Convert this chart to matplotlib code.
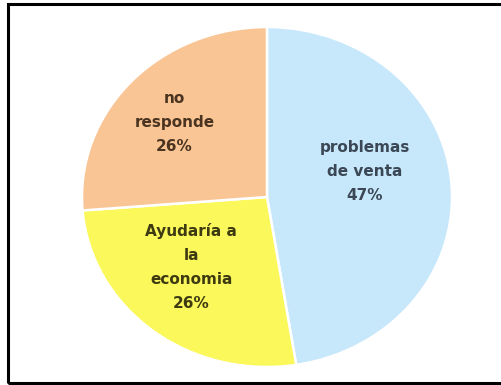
import matplotlib.pyplot as plt
from matplotlib.patches import Rectangle

# datos de la encuesta
labels = ['problemas\nde venta', 'Ayudaría a\nla\neconomia', 'no\nresponde']
values = [47, 26, 26]
colors = ['#C7E7FB', '#FAF85A', '#FAC595']
text_colors = ['#3B4755', '#3D3A12', '#4A3420']

fig = plt.figure(figsize=(5.02, 3.85), dpi=100)

# marco negro alrededor del grafico
fig.patches.append(Rectangle((8.5 / 502, 2.5 / 385), 520 / 502, 379 / 385,
                             transform=fig.transFigure, fill=False,
                             edgecolor='black', linewidth=2.2))

ax = fig.add_axes([82 / 502, 18 / 385, 370 / 502, 340 / 385])
wedges, _ = ax.pie(values, colors=colors, startangle=90, counterclock=False,
                   wedgeprops=dict(edgecolor='white', linewidth=1.8))
ax.set_aspect('auto')
ax.set_xlim(-1, 1)
ax.set_ylim(-1, 1)

# posiciones de las etiquetas dentro de cada sector
label_pos = [(0.53, 0.15), (-0.41, -0.41), (-0.5, 0.44)]
for lab, v, c, (x, y) in zip(labels, values, text_colors, label_pos):
    ax.text(x, y, f'{lab}\n{v}%', ha='center', va='center', color=c,
            fontsize=11, fontweight='bold', linespacing=1.75)

fig.savefig('out.png', dpi=100)
